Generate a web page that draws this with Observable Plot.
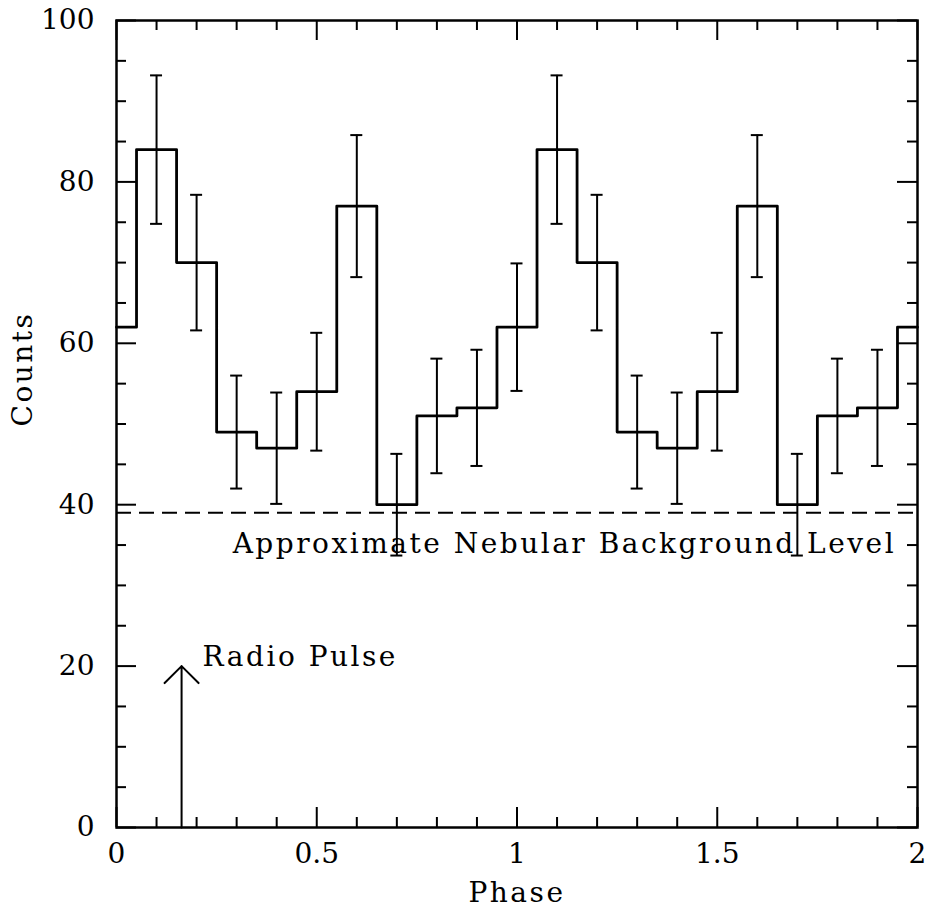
<!DOCTYPE html>
<html>
<head>
<meta charset="utf-8">
<script src="https://cdn.jsdelivr.net/npm/d3@7"></script>
<script src="https://cdn.jsdelivr.net/npm/@observablehq/plot@0.6"></script>
<style>
  html, body { margin: 0; padding: 0; background: #fff; }
  #chart { width: 929px; height: 907px; }
</style>
</head>
<body>
<div id="chart"></div>
<script>
// Bin centres (phase) and counts, two cycles shown
const phases = [0, 0.1, 0.2, 0.3, 0.4, 0.5, 0.6, 0.7, 0.8, 0.9,
                1.0, 1.1, 1.2, 1.3, 1.4, 1.5, 1.6, 1.7, 1.8, 1.9, 2.0];
const counts = [62, 84, 70, 49, 47, 54, 77, 40, 51, 52,
                62, 84, 70, 49, 47, 54, 77, 40, 51, 52, 62];
const errors = [7.9, 9.2, 8.4, 7.0, 6.9, 7.3, 8.8, 6.3, 7.1, 7.2,
                7.9, 9.2, 8.4, 7.0, 6.9, 7.3, 8.8, 6.3, 7.1, 7.2, 7.9];
const binWidth = 0.1;

// Annotations
const nebularLevel = [39];
const radioPulse = [{phase: 0.1625, from: 0, to: 20}];
const labels = [
  {phase: 0.29, count: 34, text: "Approximate Nebular Background Level"},
  {phase: 0.215, count: 20, text: "Radio Pulse"}
];
const xTitle = ["Phase"];
const yTitle = ["Counts"];

// Axis ticks
const xMajor = [0, 0.5, 1, 1.5, 2];
const xMinor = [0.1, 0.2, 0.3, 0.4, 0.6, 0.7, 0.8, 0.9, 1.1, 1.2, 1.3, 1.4, 1.6, 1.7, 1.8, 1.9];
const yMajor = [0, 20, 40, 60, 80, 100];
const yMinor = [5, 10, 15, 25, 30, 35, 45, 50, 55, 65, 70, 75, 85, 90, 95];

const W = 929, H = 907;
const mL = 116, mR = 12, mT = 20, mB = 80;
const fW = W - mL - mR, fH = H - mT - mB;
const majLen = 20, minLen = 10;

// Step outline built from bins (clipped to [0, 2])
const step = phases.map((p, i) => ({x: Math.max(0, p - binWidth / 2), y: counts[i]}));
step.push({x: 2, y: counts[counts.length - 1]});

const bins = phases.map((p, i) => ({x: p, y: counts[i], e: errors[i]}))
  .filter(d => d.x > 0 && d.x < 2);

const font = "DejaVu Serif";

const chart = Plot.plot({
  width: W, height: H,
  marginLeft: mL, marginRight: mR, marginTop: mT, marginBottom: mB,
  style: {fontFamily: font, color: "#000", background: "#fff"},
  x: {domain: [0, 2]},
  y: {domain: [0, 100]},
  marks: [
    // ticks (inward, all four sides)
    Plot.ruleX(xMajor, {x: d => d, insetTop: fH - majLen, strokeWidth: 2}),
    Plot.ruleX(xMajor, {x: d => d, insetBottom: fH - majLen, strokeWidth: 2}),
    Plot.ruleX(xMinor, {x: d => d, insetTop: fH - minLen, strokeWidth: 2}),
    Plot.ruleX(xMinor, {x: d => d, insetBottom: fH - minLen, strokeWidth: 2}),
    Plot.ruleY(yMajor, {y: d => d, insetRight: fW - majLen, strokeWidth: 2}),
    Plot.ruleY(yMajor, {y: d => d, insetLeft: fW - majLen, strokeWidth: 2}),
    Plot.ruleY(yMinor, {y: d => d, insetRight: fW - minLen, strokeWidth: 2}),
    Plot.ruleY(yMinor, {y: d => d, insetLeft: fW - minLen, strokeWidth: 2}),
    // background level
    Plot.ruleY(nebularLevel, {y: d => d, strokeWidth: 2, strokeDasharray: "15,8"}),
    // histogram
    Plot.line(step, {x: "x", y: "y", curve: "step-after", strokeWidth: 2.8}),
    // error bars
    Plot.ruleX(bins, {x: "x", y1: d => d.y - d.e, y2: d => d.y + d.e, strokeWidth: 2}),
    Plot.ruleY(bins, {y: d => d.y - d.e, x1: "x", x2: "x", insetLeft: -6, insetRight: -6, strokeWidth: 2}),
    Plot.ruleY(bins, {y: d => d.y + d.e, x1: "x", x2: "x", insetLeft: -6, insetRight: -6, strokeWidth: 2}),
    // radio pulse arrow
    Plot.arrow(radioPulse, {x1: "phase", x2: "phase", y1: "from", y2: "to",
      headLength: 18, headAngle: 90, strokeWidth: 2, bend: 0}),
    // annotations
    Plot.text(labels, {x: "phase", y: "count", text: "text", textAnchor: "start",
      lineAnchor: "bottom", fontSize: 28, fill: "#000"}),
    // frame
    Plot.frame({strokeWidth: 2.5}),
    // axes (tick labels)
    Plot.axisX(xMajor, {tickSize: 0, tickPadding: 16, fontSize: 28,
      tickFormat: d => String(d), label: null}),
    Plot.axisY(yMajor, {tickSize: 0, tickPadding: 22, fontSize: 28,
      tickFormat: d => String(d), label: null}),
    // axis titles
    Plot.text(xTitle, {text: d => d, frameAnchor: "bottom", lineAnchor: "bottom",
      dy: 74, fontSize: 28, fill: "#000"}),
    Plot.text(yTitle, {text: d => d, frameAnchor: "left", rotate: -90,
      lineAnchor: "middle", textAnchor: "middle", dx: -93, dy: -55, fontSize: 28, fill: "#000"})
  ]
});

// wider letter spacing for word labels, like the original plotting font
chart.querySelectorAll("text").forEach(t => {
  if (/[A-Za-z]/.test(t.textContent)) t.style.letterSpacing = "2.5px";
});

document.getElementById("chart").appendChild(chart);
</script>
</body>
</html>
